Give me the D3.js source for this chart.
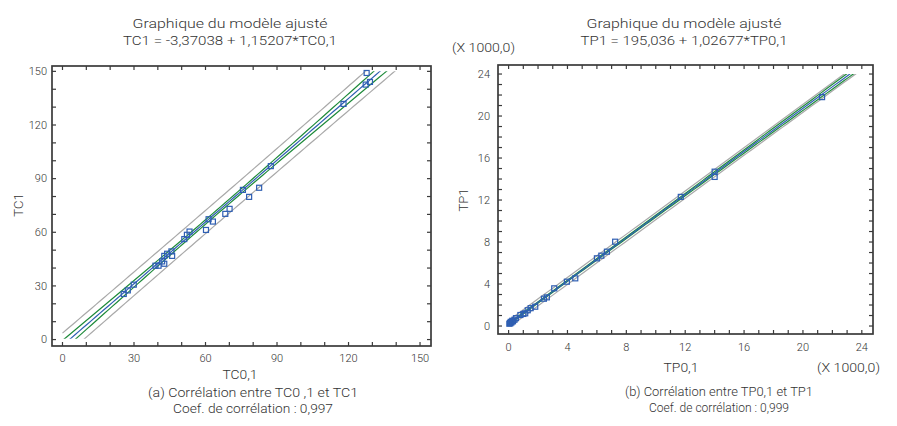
<!DOCTYPE html>
<html>
<head>
<meta charset="utf-8">
<script src="https://cdn.jsdelivr.net/npm/d3@7"></script>
<style>
  body { margin: 0; background: #fff; }
  svg { display: block; font-family: Roboto, "DejaVu Sans", sans-serif; font-weight: 300; }
</style>
</head>
<body>
<div id="chart"></div>
<script>
// observed values, left panel (TC0,1 vs TC1)
const tcX = [25.7, 27.4, 29.9, 39.0, 40.3, 41.8, 42.7, 42.7, 43.9, 45.7, 46.0,
             51.1, 52.2, 53.3, 60.2, 61.3, 63.1, 68.3, 70.1, 75.7, 78.3, 82.5,
             87.4, 117.9, 127.2, 129.0, 127.6];
const tcY = [25.5, 27.5, 30.7, 41.3, 41.3, 43.7, 42.4, 46.8, 48.0, 49.3, 46.8,
             56.2, 58.6, 60.4, 61.3, 67.3, 66.0, 70.3, 73.1, 83.7, 79.8, 84.9,
             97.0, 131.8, 142.6, 144.1, 149.1];
const tcFit = [-3.37038, 1.15207];
const tcTicks = [0, 30, 60, 90, 120, 150];

// observed values, right panel (TP0,1 vs TP1), in thousands
const tpX = [0.05, 0.1, 0.12, 0.15, 0.2, 0.25, 0.3, 0.4, 0.5, 0.8, 1.0, 1.13, 1.3,
             1.5, 1.81, 2.4, 2.6, 3.1, 3.96, 4.53, 6.0, 6.3, 6.68, 7.24, 11.7,
             14.0, 14.0, 21.3];
const tpY = [0.22, 0.3, 0.26, 0.4, 0.35, 0.5, 0.45, 0.6, 0.75, 1.05, 1.15, 1.21, 1.5,
             1.7, 1.84, 2.6, 2.73, 3.59, 4.22, 4.54, 6.45, 6.7, 7.08, 8.03, 12.3,
             14.7, 14.2, 21.8];
const tpFit = [0.195036, 1.02677];
const tpTicks = [0, 4, 8, 12, 16, 20, 24];

const W = 897, H = 426;
const tCrit = 2.05;
const col = { text: "#333", axis: "#3a3a3a", blue: "#2f5fb3", green: "#1f8b3b", gray: "#a9a9a9" };

const svg = d3.select("#chart").append("svg")
    .attr("width", W).attr("height", H);

const panels = [
  {
    id: "a", xs: tcX, ys: tcY, fit: tcFit, ticks: tcTicks, minor: 10,
    xDom: [-4.4, 154.6], xRange: [52, 431], yDom: [-3.6, 153], yRange: [346, 66],
    lineX: [0, 140], clipY: [0.5, 150],
    title: ["Graphique du modèle ajusté", "TC1 = -3,37038 + 1,15207*TC0,1"],
    titleW: [195, 214], titleX: 230,
    xLabel: "TC0,1", yLabel: "TC1", xLabelPos: [240, 374], yLabelPos: [18, 205],
    tickDy: 12, yTickX: 47,
    caption: ["(a) Corrélation entre TC0 ,1 et TC1", "Coef. de corrélation : 0,997"],
    capW: [210, 160], capSize: 13.5, capX: 253
  },
  {
    id: "b", xs: tpX, ys: tpY, fit: tpFit, ticks: tpTicks, minor: 1,
    xDom: [-0.72, 24.76], xRange: [498, 873], yDom: [-0.76, 24.86], yRange: [334, 65],
    lineX: [0, 24], clipY: [0, 24],
    title: ["Graphique du modèle ajusté", "TP1 = 195,036 + 1,02677*TP0,1"],
    titleW: [195, 207], titleX: 684,
    xLabel: "TP0,1", yLabel: "TP1", xLabelPos: [681, 367], yLabelPos: [463, 200],
    tickDy: 13, yTickX: 490,
    caption: ["(b) Corrélation entre TP0,1 et TP1", "Coef. de corrélation : 0,999"],
    capW: [188, 140], capSize: 12.5, capX: 719,
    scaleNote: true
  }
];

panels.forEach(function(p) {
  const x = d3.scaleLinear(p.xDom, p.xRange),
        y = d3.scaleLinear(p.yDom, p.yRange);
  const g = svg.append("g").attr("class", "panel-" + p.id);

  // regression stats from the observations
  const n = p.xs.length,
        xbar = d3.mean(p.xs),
        sxx = d3.sum(p.xs, function(v) { return (v - xbar) * (v - xbar); }),
        sse = d3.sum(p.xs, function(v, i) { const r = p.ys[i] - (p.fit[0] + p.fit[1] * v); return r * r; }),
        s = Math.sqrt(sse / (n - 2));
  const pred = function(v) { return p.fit[0] + p.fit[1] * v; };
  const half = function(v, k) { return tCrit * s * Math.sqrt(k + 1 / n + (v - xbar) * (v - xbar) / sxx); };

  const grid = d3.range(p.lineX[0], p.lineX[1] + 1e-9, (p.lineX[1] - p.lineX[0]) / 80);
  const curves = [
    { key: "pred-up", stroke: col.gray, f: function(v) { return pred(v) + half(v, 1); } },
    { key: "pred-lo", stroke: col.gray, f: function(v) { return pred(v) - half(v, 1); } },
    { key: "conf-up", stroke: col.green, f: function(v) { return pred(v) + half(v, 0); } },
    { key: "conf-lo", stroke: col.green, f: function(v) { return pred(v) - half(v, 0); } },
    { key: "fit", stroke: col.blue, f: pred }
  ];

  const clipId = "clip-" + p.id;
  svg.append("clipPath").attr("id", clipId).append("rect")
      .attr("x", p.xRange[0]).attr("width", p.xRange[1] - p.xRange[0])
      .attr("y", y(p.clipY[1])).attr("height", y(p.clipY[0]) - y(p.clipY[1]));

  const line = d3.line().x(function(d) { return x(d[0]); }).y(function(d) { return y(d[1]); });

  g.append("g").attr("clip-path", "url(#" + clipId + ")")
    .selectAll("path").data(curves).join("path")
      .attr("d", function(c) { return line(grid.map(function(v) { return [v, c.f(v)]; })); })
      .attr("fill", "none")
      .attr("stroke", function(c) { return c.stroke; })
      .attr("stroke-width", 1.2);

  // observations
  g.append("g").selectAll("rect").data(p.xs).join("rect")
      .attr("x", function(d) { return x(d) - 2.5; })
      .attr("y", function(d, i) { return y(p.ys[i]) - 2.5; })
      .attr("width", 5).attr("height", 5)
      .attr("fill", "none").attr("stroke", col.blue).attr("stroke-width", 1.2);

  // frame
  const x0 = p.xRange[0], x1 = p.xRange[1], y0 = p.yRange[0], y1 = p.yRange[1];
  g.append("rect")
      .attr("x", x0).attr("y", y1).attr("width", x1 - x0).attr("height", y0 - y1)
      .attr("fill", "none").attr("stroke", col.axis).attr("stroke-width", 1.7);

  // inward ticks on four sides
  const tl = 4;
  const minorVals = d3.range(p.ticks[0], p.ticks[p.ticks.length - 1] + 1e-9, p.minor);
  const tg = g.append("g").attr("stroke", col.axis).attr("stroke-width", 1.2);
  minorVals.forEach(function(v) {
    tg.append("line").attr("x1", x(v)).attr("x2", x(v)).attr("y1", y0).attr("y2", y0 - tl);
    tg.append("line").attr("x1", x(v)).attr("x2", x(v)).attr("y1", y1).attr("y2", y1 + tl);
    tg.append("line").attr("y1", y(v)).attr("y2", y(v)).attr("x1", x0).attr("x2", x0 + tl);
    tg.append("line").attr("y1", y(v)).attr("y2", y(v)).attr("x1", x1).attr("x2", x1 - tl);
  });

  // tick labels
  g.append("g").selectAll("text").data(p.ticks).join("text")
      .attr("x", function(d) { return x(d); })
      .attr("y", y0 + p.tickDy)
      .attr("dy", "0.35em")
      .attr("text-anchor", "middle")
      .attr("font-size", 11).attr("fill", col.text)
      .text(function(d) { return d; });
  g.append("g").selectAll("text").data(p.ticks).join("text")
      .attr("x", p.yTickX)
      .attr("y", function(d) { return y(d); })
      .attr("dy", "0.35em")
      .attr("text-anchor", "end")
      .attr("font-size", 11).attr("fill", col.text)
      .text(function(d) { return d; });

  // titles and labels
  g.append("g").selectAll("text").data(p.title).join("text")
      .attr("x", p.titleX).attr("y", function(d, i) { return 23 + i * 17; })
      .attr("dy", "0.35em").attr("text-anchor", "middle")
      .attr("font-size", 13.5).attr("fill", col.text)
      .attr("textLength", function(d, i) { return p.titleW[i]; })
      .attr("lengthAdjust", "spacingAndGlyphs")
      .text(function(d) { return d; });
  g.append("text")
      .attr("x", p.xLabelPos[0]).attr("y", p.xLabelPos[1])
      .attr("dy", "0.35em").attr("text-anchor", "middle")
      .attr("font-size", 13.5).attr("fill", col.text)
      .attr("textLength", 35).attr("lengthAdjust", "spacingAndGlyphs")
      .text(p.xLabel);
  g.append("text")
      .attr("transform", "translate(" + p.yLabelPos[0] + "," + p.yLabelPos[1] + ") rotate(-90)")
      .attr("dy", "0.35em").attr("text-anchor", "middle")
      .attr("font-size", 13).attr("fill", col.text)
      .text(p.yLabel);
  g.append("g").selectAll("text").data(p.caption).join("text")
      .attr("x", p.capX).attr("y", function(d, i) { return 392 + i * 16; })
      .attr("dy", "0.35em").attr("text-anchor", "middle")
      .attr("font-size", p.capSize).attr("fill", col.text)
      .attr("textLength", function(d, i) { return p.capW[i]; })
      .attr("lengthAdjust", "spacingAndGlyphs")
      .text(function(d) { return d; });

  if (p.scaleNote) {
    g.append("text").attr("x", 452).attr("y", 47).attr("dy", "0.35em")
        .attr("font-size", 13.5).attr("fill", col.text)
        .attr("textLength", 63).attr("lengthAdjust", "spacingAndGlyphs")
        .text("(X 1000,0)");
    g.append("text").attr("x", 817).attr("y", 367).attr("dy", "0.35em")
        .attr("font-size", 13.5).attr("fill", col.text)
        .attr("textLength", 63).attr("lengthAdjust", "spacingAndGlyphs")
        .text("(X 1000,0)");
  }
});
</script>
</body>
</html>
